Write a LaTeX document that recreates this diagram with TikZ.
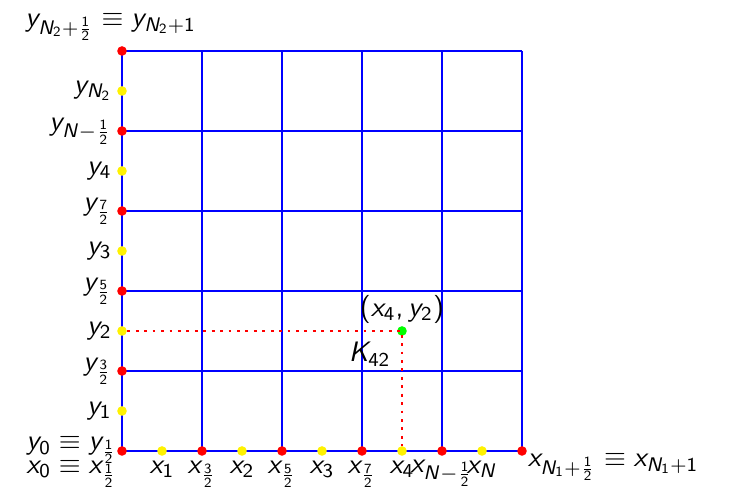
\documentclass[tikz,border=0pt]{standalone}
\usetikzlibrary{positioning}
% sans serif letters and digits in math
\DeclareSymbolFont{letters}{OT1}{cmss}{m}{sl}
\DeclareSymbolFont{operators}{OT1}{cmss}{m}{n}
\DeclareMathSymbol{,}{\mathpunct}{operators}{"2C}

\begin{document}
\begin{tikzpicture}[
  every node/.style={inner sep=1.5pt},
  gridline/.style={blue,line width=0.5pt},
  reddot/.style={circle,fill=red,inner sep=0pt,minimum size=1.2mm},
  yeldot/.style={circle,fill=yellow,inner sep=0pt,minimum size=1.2mm},
  greendot/.style={circle,fill=green,inner sep=0pt,minimum size=1.2mm},
  guide/.style={red,dotted,line width=1pt}
]
  \useasboundingbox (-1.525,-0.55) rectangle (7.7875,5.6375);
  \draw[gridline] (0,0) grid (5,5);

  % points on the x axis
  \node[reddot] (x0) at (0,0) {};
  \node[yeldot] (x1) at (0.5,0) {};
  \node[reddot] (x32) at (1,0) {};
  \node[yeldot] (x2) at (1.5,0) {};
  \node[reddot] (x52) at (2,0) {};
  \node[yeldot] (x3) at (2.5,0) {};
  \node[reddot] (x72) at (3,0) {};
  \node[yeldot] (x4) at (3.5,0) {};
  \node[reddot] (xNh) at (4,0) {};
  \node[yeldot] (xN) at (4.5,0) {};
  \node[reddot] (xend) at (5,0) {};

  % points on the y axis
  \node[yeldot] (y1) at (0,0.5) {};
  \node[reddot] (y32) at (0,1) {};
  \node[yeldot] (y2) at (0,1.5) {};
  \node[reddot] (y52) at (0,2) {};
  \node[yeldot] (y3) at (0,2.5) {};
  \node[reddot] (y72) at (0,3) {};
  \node[yeldot] (y4) at (0,3.5) {};
  \node[reddot] (yNh) at (0,4) {};
  \node[yeldot] (yN) at (0,4.5) {};
  \node[reddot] (yend) at (0,5) {};

  \node[greendot] (p42) at (3.5,1.5) {};
  \draw[guide] (y2) -- (p42.center) -- (x4);

  \node[below=0pt of x1] {$x_1$};
  \node[below=0pt of x32] {$x_{\frac32}$};
  \node[below=0pt of x2] {$x_2$};
  \node[below=0pt of x52] {$x_{\frac52}$};
  \node[below=0pt of x3] {$x_3$};
  \node[below=0pt of x72] {$x_{\frac72}$};
  \node[below=0pt of x4] {$x_4$};
  \node[below=0pt of xNh,inner sep=1pt] {$x_{N-\frac12}$};
  \node[below=0pt of xN] {$x_N$};
  \node[below right=-2pt and -1pt of xend] {$x_{N_1+\frac12}\equiv x_{N_1+1}$};
  \node[anchor=north east] at (0.0,-0.06) {$x_0\equiv x_{\frac12}$};

  \node[left=0pt of y1] {$y_1$};
  \node[left=0pt of y32] {$y_{\frac32}$};
  \node[left=0pt of y2] {$y_2$};
  \node[left=0pt of y52] {$y_{\frac52}$};
  \node[left=0pt of y3] {$y_3$};
  \node[left=0pt of y72] {$y_{\frac72}$};
  \node[left=0pt of y4] {$y_4$};
  \node[left=0pt of yNh] {$y_{N-\frac12}$};
  \node[left=0pt of yN] {$y_{N_2}$};
  \node[anchor=south east] at (0.0,-0.22) {$y_0\equiv y_{\frac12}$};
  \node[above=0pt of yend,xshift=-4pt] {$y_{N_2+\frac12}\equiv y_{N_2+1}$};

  \node[above=-1pt of p42] {$(x_4,y_2)$};
  \node[below left=1pt and 1pt of p42] {$K_{42}$};
\end{tikzpicture}
\end{document}
